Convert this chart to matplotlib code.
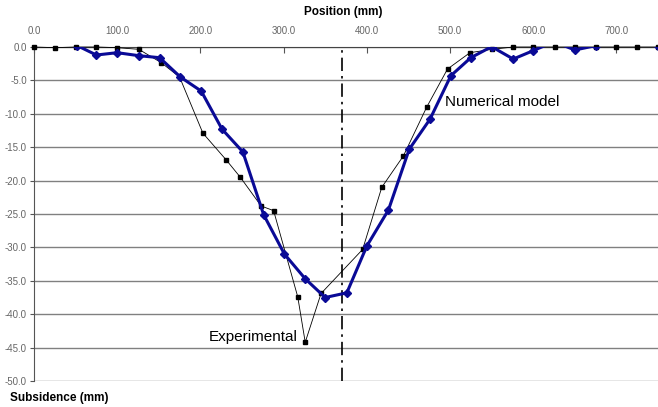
import numpy as np
import matplotlib.pyplot as plt

plt.rcParams['font.family'] = ['Liberation Sans', 'DejaVu Sans']

# Experimental (black squares)
exp_x = [0, 25, 50, 75, 100, 126, 153, 175, 203, 231, 248, 273, 288, 317, 326, 345,
         395, 418, 444, 472, 497, 524, 550, 576, 600, 626, 650, 675, 700, 725, 750]
exp_y = [0.0, -0.1, 0.0, 0.0, -0.1, -0.35, -2.35, -4.5, -12.9, -16.9, -19.5, -23.8, -24.5,
         -37.4, -44.2, -36.9, -30.3, -21.0, -16.3, -9.0, -3.3, -0.85, -0.35, 0.0, 0.0,
         0.0, 0.0, 0.0, 0.0, 0.0, 0.0]

# Numerical model (blue diamonds)
num_x = [52, 75, 100, 126, 151, 176, 201, 226, 251, 276, 301, 326, 350, 376, 400, 426,
         451, 476, 501, 525, 550, 576, 600, 625, 650, 675, 700, 725, 750]
num_y = [0.2, -1.2, -0.85, -1.3, -1.6, -4.5, -6.6, -12.3, -15.7, -25.1, -31.0, -34.7,
         -37.5, -36.8, -29.8, -24.4, -15.3, -10.8, -4.3, -1.6, 0.05, -1.8, -0.55, 0.8,
         -0.45, 0.2, 0.8, 0.8, 0.1]

xticks = np.arange(0, 701, 100)
yticks = np.arange(-50, 1, 5)

fig = plt.figure(figsize=(6.58, 4.07), dpi=100)
ax = fig.add_axes([34 / 658, 1 - 381 / 407, 1 - 34 / 658, (381 - 47) / 407])

for yv in yticks:
    ax.axhline(yv, color='#808080', lw=1, zorder=1)

ax.axvline(370, color='black', lw=1.2, ls=(0, (8, 3, 1.5, 3)), zorder=2)

ax.plot(exp_x, exp_y, color='black', lw=0.6, marker='s', ms=3.2, zorder=3, clip_on=False)
ax.plot(num_x, num_y, color='#0a0a96', lw=2.2, marker='D', ms=4.5, zorder=4)

ax.set_xlim(0, 750)
ax.set_ylim(-50, 0)
ax.xaxis.tick_top()
ax.set_xticks(xticks)
ax.set_xticklabels([f'{v:.1f}' for v in xticks])
ax.set_yticks(yticks)
ax.set_yticklabels([f'{v:.1f}' for v in yticks])
ax.tick_params(axis='x', direction='in', length=4, width=0.8, color='#555555',
               labelsize=7, labelcolor='#666666', pad=8)
ax.tick_params(axis='y', direction='out', length=3, width=0.8, color='#555555',
               labelsize=7, labelcolor='#666666', pad=2)
for s in ['right', 'bottom']:
    ax.spines[s].set_visible(False)
ax.spines['left'].set_color('#555555')
ax.spines['top'].set_color('#444444')

fig.text(343 / 658, 1 - 12 / 407, 'Position (mm)', ha='center', va='center',
         fontsize=8.5, fontweight='bold')
fig.text(10 / 658, 1 - 398 / 407, 'Subsidence (mm)', ha='left', va='center',
         fontsize=8.5, fontweight='bold')
ax.text(494, -8.2, 'Numerical model', fontsize=11, ha='left', va='center')
ax.text(317, -43.4, 'Experimental', fontsize=11, ha='right', va='center')

fig.savefig('out.png', dpi=100)
